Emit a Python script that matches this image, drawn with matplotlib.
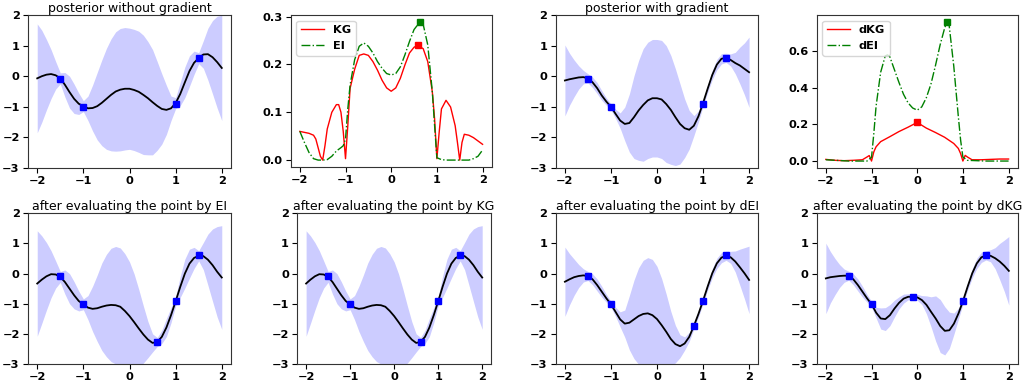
import os
import matplotlib
matplotlib.use("Agg")
import matplotlib.pyplot as plt
from matplotlib.font_manager import FontProperties

# ---------------- data ----------------
X_GRID = [-2.0, -1.9, -1.8, -1.7, -1.6, -1.5, -1.4, -1.3, -1.2, -1.1,
          -1.0, -0.9, -0.8, -0.7, -0.6, -0.5, -0.4, -0.3, -0.2, -0.1,
          0.0, 0.1, 0.2, 0.3, 0.4, 0.5, 0.6, 0.7, 0.8, 0.9,
          1.0, 1.1, 1.2, 1.3, 1.4, 1.5, 1.6, 1.7, 1.8, 1.9, 2.0]

train_x = [-1.5, -1.0, 1.0, 1.5]
train_y = [-0.08, -1.0, -0.9, 0.6]

# posterior without gradient
mean_nograd = [-0.07, 0.0, 0.05, 0.07, 0.03, -0.07, -0.28, -0.52, -0.74, -0.9,
               -0.98, -1.05, -1.04, -0.98, -0.87, -0.74, -0.61, -0.5, -0.44, -0.41,
               -0.41, -0.45, -0.51, -0.61, -0.72, -0.85, -0.97, -1.07, -1.1, -1.05,
               -0.88, -0.58, -0.2, 0.17, 0.44, 0.59, 0.71, 0.72, 0.62, 0.46, 0.27]
band_nograd = [1.78, 1.5, 1.15, 0.8, 0.45, 0.18, 0.4, 0.52, 0.48, 0.35,
               0.18, 0.4, 0.75, 1.1, 1.4, 1.65, 1.83, 1.95, 2.0, 2.0,
               1.98, 1.98, 1.98, 1.95, 1.85, 1.72, 1.45, 1.15, 0.8, 0.4,
               0.18, 0.38, 0.5, 0.5, 0.38, 0.18, 0.45, 0.85, 1.2, 1.5, 1.72]

# posterior with gradient
mean_grad = [-0.14, -0.1, -0.07, -0.04, -0.03, -0.07, -0.2, -0.39, -0.63, -0.83,
             -1.0, -1.23, -1.45, -1.56, -1.53, -1.34, -1.12, -0.94, -0.79, -0.72,
             -0.72, -0.76, -0.91, -1.1, -1.34, -1.56, -1.7, -1.75, -1.62, -1.31,
             -0.88, -0.41, 0.04, 0.38, 0.57, 0.6, 0.53, 0.43, 0.35, 0.24, 0.13]
band_grad = [1.16, 0.85, 0.6, 0.38, 0.22, 0.15, 0.17, 0.18, 0.16, 0.12,
             0.1, 0.15, 0.25, 0.55, 0.95, 1.35, 1.63, 1.84, 1.9, 1.92,
             1.92, 1.93, 1.91, 1.78, 1.58, 1.31, 0.96, 0.63, 0.33, 0.18,
             0.1, 0.12, 0.15, 0.17, 0.17, 0.15, 0.2, 0.35, 0.6, 0.85, 1.15]

# acquisition functions (no gradient)
kg_x = [-2.0, -1.9, -1.8, -1.7, -1.65, -1.6, -1.55, -1.5, -1.45, -1.4, -1.3, -1.2,
        -1.15, -1.1, -1.05, -1.0, -0.95, -0.9, -0.8, -0.7, -0.6, -0.5, -0.4, -0.3,
        -0.2, -0.1, 0.0, 0.1, 0.2, 0.3, 0.4, 0.5, 0.58, 0.7, 0.8, 0.9, 0.95, 1.0,
        1.05, 1.1, 1.2, 1.3, 1.4, 1.45, 1.5, 1.55, 1.6, 1.7, 1.8, 1.9, 2.0]
kg_y = [0.06, 0.058, 0.056, 0.052, 0.044, 0.026, 0.008, 0.0, 0.03, 0.065, 0.1, 0.116,
        0.116, 0.1, 0.06, 0.003, 0.072, 0.15, 0.19, 0.219, 0.222, 0.219, 0.206, 0.188,
        0.167, 0.151, 0.144, 0.151, 0.171, 0.199, 0.224, 0.236, 0.24, 0.233, 0.206, 0.143, 0.086, 0.003,
        0.058, 0.107, 0.125, 0.111, 0.072, 0.037, 0.0, 0.037, 0.054, 0.052, 0.047, 0.04, 0.033]
ei_x = [-2.0, -1.9, -1.8, -1.7, -1.6, -1.5, -1.4, -1.3, -1.2, -1.1, -1.05, -1.0,
        -0.95, -0.9, -0.8, -0.7, -0.6, -0.5, -0.4, -0.3, -0.2, -0.1, 0.0, 0.1, 0.2,
        0.3, 0.4, 0.5, 0.63, 0.7, 0.8, 0.9, 0.95, 1.0, 1.1, 1.2, 1.4, 1.6, 1.7,
        1.8, 1.9, 2.0]
ei_y = [0.06, 0.037, 0.016, 0.003, 0.0, 0.0, 0.001, 0.008, 0.019, 0.026, 0.03, 0.044,
        0.107, 0.157, 0.21, 0.238, 0.245, 0.238, 0.224, 0.206, 0.192, 0.181, 0.178, 0.181, 0.195,
        0.22, 0.248, 0.273, 0.289, 0.284, 0.241, 0.143, 0.072, 0.005, 0.001, 0.0, 0.0, 0.0, 0.0,
        0.003, 0.008, 0.021]
kg_best = (0.58, 0.24)
ei_best = (0.63, 0.289)

# acquisition functions (with gradient)
dkg_x = [-2.0, -1.8, -1.6, -1.4, -1.2, -1.1, -1.05, -1.0, -0.95, -0.9, -0.8, -0.6,
         -0.4, -0.2, 0.0, 0.2, 0.4, 0.6, 0.8, 0.9, 0.95, 1.0, 1.05, 1.1, 1.2, 1.4,
         1.6, 1.8, 2.0]
dkg_y = [0.009, 0.004, 0.002, 0.004, 0.007, 0.022, 0.03, 0.0, 0.05, 0.078, 0.106, 0.133,
         0.161, 0.185, 0.211, 0.18, 0.156, 0.13, 0.096, 0.069, 0.041, 0.0, 0.031, 0.022, 0.007, 0.007,
         0.009, 0.011, 0.011]
dei_x = [-2.0, -1.5, -1.1, -1.0, -0.95, -0.9, -0.8, -0.7, -0.65, -0.6, -0.5, -0.4,
         -0.3, -0.2, -0.1, 0.0, 0.1, 0.2, 0.3, 0.4, 0.5, 0.6, 0.65, 0.7, 0.8, 0.9,
         0.95, 1.0, 1.1, 1.5, 2.0]
dei_y = [0.007, 0.0, 0.0, 0.02, 0.15, 0.3, 0.485, 0.574, 0.58, 0.57, 0.5, 0.43,
         0.365, 0.318, 0.29, 0.278, 0.296, 0.346, 0.42, 0.522, 0.633, 0.726, 0.76, 0.74, 0.52, 0.244,
         0.115, 0.022, 0.004, 0.0, 0.0]
dkg_best = (0.0, 0.211)
dei_best = (0.65, 0.76)

# after evaluating the point by EI / KG (identical)
new_ei = (0.6, -2.27)
mean_after_ei = [-0.33, -0.2, -0.09, -0.02, -0.03, -0.11, -0.28, -0.5, -0.72, -0.91,
                 -1.02, -1.13, -1.17, -1.15, -1.1, -1.06, -1.04, -1.05, -1.1, -1.24,
                 -1.41, -1.61, -1.82, -2.02, -2.19, -2.3, -2.27, -2.1, -1.79, -1.38,
                 -0.92, -0.44, 0.0, 0.33, 0.52, 0.59, 0.58, 0.46, 0.28, 0.06, -0.13]
band_after_ei = [1.75, 1.45, 1.12, 0.78, 0.45, 0.18, 0.4, 0.5, 0.45, 0.33,
                 0.18, 0.4, 0.75, 1.1, 1.45, 1.7, 1.88, 1.95, 1.95, 1.9,
                 1.8, 1.6, 1.3, 0.95, 0.6, 0.3, 0.15, 0.22, 0.3, 0.25,
                 0.15, 0.35, 0.48, 0.48, 0.35, 0.17, 0.45, 0.85, 1.2, 1.5, 1.72]

# after evaluating the point by dEI
new_dei = (0.8, -1.74)
mean_after_dei = [-0.27, -0.19, -0.12, -0.08, -0.06, -0.08, -0.19, -0.38, -0.6, -0.82,
                  -1.02, -1.27, -1.52, -1.66, -1.63, -1.52, -1.41, -1.34, -1.32, -1.38,
                  -1.51, -1.71, -1.93, -2.17, -2.34, -2.41, -2.32, -2.1, -1.74, -1.34,
                  -0.9, -0.43, 0.01, 0.34, 0.53, 0.59, 0.54, 0.4, 0.21, 0.01, -0.21]
band_after_dei = [1.15, 0.85, 0.6, 0.38, 0.22, 0.15, 0.18, 0.2, 0.18, 0.13,
                  0.1, 0.15, 0.25, 0.45, 0.9, 1.3, 1.6, 1.78, 1.85, 1.85,
                  1.75, 1.55, 1.25, 0.92, 0.62, 0.38, 0.22, 0.15, 0.1, 0.1,
                  0.1, 0.12, 0.15, 0.17, 0.17, 0.15, 0.2, 0.35, 0.6, 0.85, 1.12]

# after evaluating the point by dKG
new_dkg = (-0.1, -0.77)
mean_after_dkg = [-0.16, -0.12, -0.1, -0.08, -0.07, -0.07, -0.19, -0.38, -0.6, -0.82,
                  -1.02, -1.3, -1.49, -1.51, -1.38, -1.16, -0.97, -0.83, -0.77, -0.77,
                  -0.79, -0.88, -1.04, -1.27, -1.49, -1.74, -1.9, -1.88, -1.66, -1.32,
                  -0.9, -0.43, 0.01, 0.34, 0.54, 0.6, 0.59, 0.51, 0.4, 0.26, 0.09]
band_after_dkg = [1.17, 0.85, 0.6, 0.38, 0.22, 0.15, 0.18, 0.2, 0.18, 0.13,
                  0.1, 0.18, 0.35, 0.38, 0.35, 0.28, 0.2, 0.15, 0.1, 0.08,
                  0.1, 0.15, 0.3, 0.5, 0.75, 0.88, 0.8, 0.6, 0.35, 0.18,
                  0.1, 0.12, 0.15, 0.17, 0.17, 0.15, 0.2, 0.35, 0.6, 0.85, 1.14]

titles = ["posterior without gradient", "posterior with gradient",
          "after evaluating the point by EI", "after evaluating the point by KG",
          "after evaluating the point by dEI", "after evaluating the point by dKG"]

# ---------------- drawing ----------------
W, H = 1023, 383
fig = plt.figure(figsize=(W / 100, H / 100), dpi=100)

TICK_FS = 8.2
TITLE_FS = 9.0

_bold_path = os.path.join(matplotlib.get_data_path(), "fonts", "ttf", "DejaVuSans-Bold.ttf")
if os.path.exists(_bold_path):
    BOLD = FontProperties(fname=_bold_path, size=TICK_FS)
else:
    BOLD = FontProperties(family="DejaVu Sans", weight="bold", size=TICK_FS)


def add_ax(left, top, right, bottom):
    return fig.add_axes([left / W, 1 - bottom / H, (right - left) / W, (bottom - top) / H])


def fmt(v):
    s = "{:.1f}".format(v) if isinstance(v, float) else str(v)
    return s.replace("-", "\u2212")


def style(ax, xt, yt):
    ax.set_xticks(xt)
    ax.set_yticks(yt)
    ax.set_xticklabels([fmt(v) for v in xt], fontproperties=BOLD)
    ax.set_yticklabels([fmt(v) for v in yt], fontproperties=BOLD)
    ax.tick_params(length=3.5, width=0.8, pad=2.5)
    for sp in ax.spines.values():
        sp.set_edgecolor("#333333")


XT = [-2, -1, 0, 1, 2]


def gp_panel(ax, mean, band, px, py, title):
    lo = [m - b for m, b in zip(mean, band)]
    hi = [m + b for m, b in zip(mean, band)]
    ax.fill_between(X_GRID, lo, hi, color="b", alpha=0.2, linewidth=0)
    ax.plot(X_GRID, mean, color="k", lw=1.3)
    ax.plot(px, py, "bs", markersize=4.0)
    ax.set_ylim(-3, 2)
    ax.set_title(title, fontsize=TITLE_FS, fontweight="normal", pad=2)
    style(ax, XT, [-3, -2, -1, 0, 1, 2])


def acq_panel(ax, x1, y1, b1, lab1, x2, y2, b2, lab2, yt):
    ax.plot(x1, y1, "r-", lw=1.0, label=lab1)
    ax.plot(x2, y2, "g-.", lw=1.0, label=lab2)
    ax.plot([b1[0]], [b1[1]], "rs", markersize=4.0)
    ax.plot([b2[0]], [b2[1]], "gs", markersize=4.0)
    ax.legend(loc="upper left", prop=BOLD)
    style(ax, XT, yt)


ax1 = add_ax(28, 15, 231, 168)
gp_panel(ax1, mean_nograd, band_nograd, train_x, train_y, titles[0])

ax2 = add_ax(290.7, 15, 491.7, 167)
acq_panel(ax2, kg_x, kg_y, kg_best, "KG", ei_x, ei_y, ei_best, "EI", [0.0, 0.1, 0.2, 0.3])

ax3 = add_ax(555.7, 15, 758.3, 168)
gp_panel(ax3, mean_grad, band_grad, train_x, train_y, titles[1])

ax4 = add_ax(816.7, 15, 1017.7, 168)
acq_panel(ax4, dkg_x, dkg_y, dkg_best, "dKG", dei_x, dei_y, dei_best, "dEI", [0.0, 0.2, 0.4, 0.6])

ax5 = add_ax(28, 213.3, 231, 364)
gp_panel(ax5, mean_after_ei, band_after_ei, train_x + [new_ei[0]], train_y + [new_ei[1]], titles[2])

ax6 = add_ax(297.3, 213.3, 491, 364)
gp_panel(ax6, mean_after_ei, band_after_ei, train_x + [new_ei[0]], train_y + [new_ei[1]], titles[3])

ax7 = add_ax(555.7, 213.3, 758.3, 364)
gp_panel(ax7, mean_after_dei, band_after_dei, train_x + [new_dei[0]], train_y + [new_dei[1]], titles[4])

ax8 = add_ax(816.7, 213.3, 1018, 364)
gp_panel(ax8, mean_after_dkg, band_after_dkg, train_x + [new_dkg[0]], train_y + [new_dkg[1]], titles[5])

fig.savefig("out.png", dpi=100)
